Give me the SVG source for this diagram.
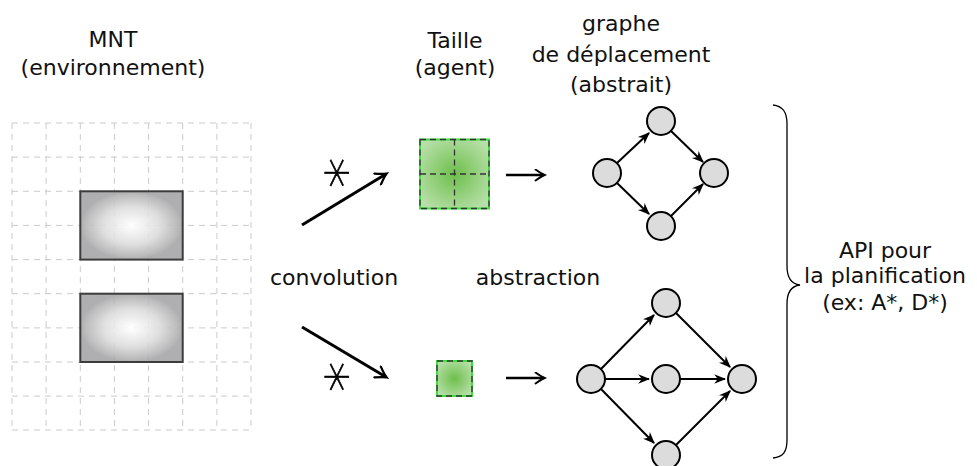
<svg xmlns="http://www.w3.org/2000/svg" width="977" height="466" viewBox="0 0 977 466">
  <defs>
    <radialGradient id="grayFill" cx="0.5" cy="0.5" r="0.5">
      <stop offset="0" stop-color="#ffffff"/>
      <stop offset="0.55" stop-color="#dcdcdc"/>
      <stop offset="0.9" stop-color="#b4b4b5"/>
      <stop offset="1" stop-color="#a6a6a8"/>
    </radialGradient>
    <radialGradient id="greenFill" cx="0.5" cy="0.5" r="0.6">
      <stop offset="0" stop-color="#6dbf4b"/>
      <stop offset="1" stop-color="#b7dfa8"/>
    </radialGradient>
    <!-- open "to" arrow tip for the operator arrows -->
    <marker id="tipOpen" viewBox="0 0 10 10" refX="8" refY="5" markerWidth="5" markerHeight="5" orient="auto" markerUnits="strokeWidth">
      <path d="M1.5,0.8 Q6,4 8.5,5 Q6,6 1.5,9.2" fill="none" stroke="#000" stroke-width="1.5" stroke-linecap="round"/>
    </marker>
    <!-- filled stealth tip for graph edges -->
    <marker id="tipGraph" viewBox="0 0 10 10" refX="9" refY="5" markerWidth="6" markerHeight="6" orient="auto" markerUnits="strokeWidth">
      <path d="M0,1 L10,5 L0,9 L3,5 Z" fill="#000"/>
    </marker>
  </defs>
  <style>
    text { font-family: "DejaVu Sans", "Liberation Sans", sans-serif; font-size: 22px; fill: #111; text-anchor: middle; }
    .grid line { stroke: #cbcbcb; stroke-width: 1; stroke-dasharray: 6 5; }
    .block { fill: url(#grayFill); fill-opacity: 0.9; stroke: #3c3c3c; stroke-width: 2; }
    .agent { fill: url(#greenFill); stroke: #3fdc3f; stroke-width: 2; }
    .agentDash { fill: none; stroke: #333; stroke-width: 1.3; stroke-dasharray: 6 4; }
    .op { stroke: #000; stroke-width: 3; fill: none; marker-end: url(#tipOpen); }
    .arr { stroke: #000; stroke-width: 2.6; fill: none; marker-end: url(#tipOpen); }
    .edge { stroke: #000; stroke-width: 2; fill: none; marker-end: url(#tipGraph); }
    .node circle { fill: #dcdcdd; stroke: #000; stroke-width: 2; }
    .star { font-size: 62px; font-weight: 200; fill: #000; stroke: #000; stroke-width: 0.7; }
  </style>

  <!-- Headings -->
  <g id="titles">
    <text x="113" y="47">MNT</text>
    <text x="113" y="75">(environnement)</text>
    <text x="455" y="48">Taille</text>
    <text x="455" y="75">(agent)</text>
    <text x="621" y="31">graphe</text>
    <text x="621" y="62">de déplacement</text>
    <text x="621" y="92">(abstrait)</text>
    <text x="334" y="285">convolution</text>
    <text x="538" y="285">abstraction</text>
  </g>

  <!-- Terrain model: grid with two obstacles -->
  <g id="mnt">
    <g class="grid">
      <line x1="12" y1="123" x2="12" y2="430"/>
      <line x1="46.1" y1="123" x2="46.1" y2="430"/>
      <line x1="80.3" y1="123" x2="80.3" y2="430"/>
      <line x1="114.4" y1="123" x2="114.4" y2="430"/>
      <line x1="148.6" y1="123" x2="148.6" y2="430"/>
      <line x1="182.7" y1="123" x2="182.7" y2="430"/>
      <line x1="216.9" y1="123" x2="216.9" y2="430"/>
      <line x1="251" y1="123" x2="251" y2="430"/>
      <line x1="12" y1="123" x2="251" y2="123"/>
      <line x1="12" y1="157.1" x2="251" y2="157.1"/>
      <line x1="12" y1="191.3" x2="251" y2="191.3"/>
      <line x1="12" y1="225.4" x2="251" y2="225.4"/>
      <line x1="12" y1="259.6" x2="251" y2="259.6"/>
      <line x1="12" y1="293.7" x2="251" y2="293.7"/>
      <line x1="12" y1="327.9" x2="251" y2="327.9"/>
      <line x1="12" y1="362" x2="251" y2="362"/>
      <line x1="12" y1="396.1" x2="251" y2="396.1"/>
      <line x1="12" y1="430" x2="251" y2="430"/>
    </g>
    <rect class="block" x="80.3" y="191.3" width="102.4" height="68.3"/>
    <rect class="block" x="80.3" y="293.7" width="102.4" height="68.3"/>
  </g>

  <!-- Agent footprints -->
  <g id="agent-large">
    <rect class="agent" x="420" y="139.5" width="69" height="69"/>
    <rect class="agentDash" x="420" y="139.5" width="69" height="69"/>
    <line class="agentDash" x1="454.5" y1="139.5" x2="454.5" y2="208.5"/>
    <line class="agentDash" x1="420" y1="174" x2="489" y2="174"/>
  </g>
  <g id="agent-small">
    <rect class="agent" x="437" y="361" width="35" height="35"/>
    <rect class="agentDash" x="437" y="361" width="35" height="35"/>
  </g>

  <!-- Top graph (4 nodes) -->
  <g id="g1-left" class="node"><circle cx="607" cy="173" r="14"/></g>
  <g id="g1-top" class="node"><circle cx="661" cy="121" r="14"/></g>
  <g id="g1-right" class="node"><circle cx="714" cy="173" r="14"/></g>
  <g id="g1-bottom" class="node"><circle cx="661" cy="226" r="14"/></g>

  <!-- Bottom graph (5 nodes) -->
  <g id="g2-left" class="node"><circle cx="591" cy="379" r="14"/></g>
  <g id="g2-top" class="node"><circle cx="666" cy="303" r="14"/></g>
  <g id="g2-mid" class="node"><circle cx="666" cy="379" r="14"/></g>
  <g id="g2-bottom" class="node"><circle cx="666" cy="455" r="14"/></g>
  <g id="g2-right" class="node"><circle cx="742" cy="379" r="14"/></g>

  <!-- Planning API label with brace -->
  <g id="api">
    <path d="M773,105 C783,106 787,112 787,124 L787,266 C787,278 791,284 800,285 C791,286 787,292 787,304 L787,440 C787,452 783,457 773,458" fill="none" stroke="#000" stroke-width="1.3"/>
    <text x="885" y="258">API pour</text>
    <text x="885" y="283">la planification</text>
    <text x="885" y="310">(ex: A*, D*)</text>
  </g>

  <!-- Connectors -->
  <g id="connectors">
    <text class="star" x="335" y="191" transform="translate(335 173) scale(0.85 1) rotate(90) translate(-335 -173)">∗</text>
    <text class="star" x="335" y="395" transform="translate(335 377) scale(0.85 1) rotate(90) translate(-335 -377)">∗</text>
    <line class="op" x1="302" y1="225" x2="386" y2="174"/>
    <line class="op" x1="302" y1="327" x2="386" y2="377"/>
    <line class="arr" x1="506" y1="175" x2="544" y2="175"/>
    <line class="arr" x1="506" y1="378" x2="544" y2="378"/>

    <line class="edge" x1="617" y1="163" x2="649" y2="133"/>
    <line class="edge" x1="671" y1="131" x2="703" y2="162"/>
    <line class="edge" x1="617" y1="183" x2="649" y2="214"/>
    <line class="edge" x1="671" y1="216" x2="703" y2="184"/>

    <line class="edge" x1="601" y1="369" x2="654" y2="315"/>
    <line class="edge" x1="605" y1="379" x2="649" y2="379"/>
    <line class="edge" x1="601" y1="389" x2="654" y2="443"/>
    <line class="edge" x1="676" y1="313" x2="730" y2="367"/>
    <line class="edge" x1="680" y1="379" x2="725" y2="379"/>
    <line class="edge" x1="676" y1="445" x2="730" y2="391"/>
  </g>
</svg>
